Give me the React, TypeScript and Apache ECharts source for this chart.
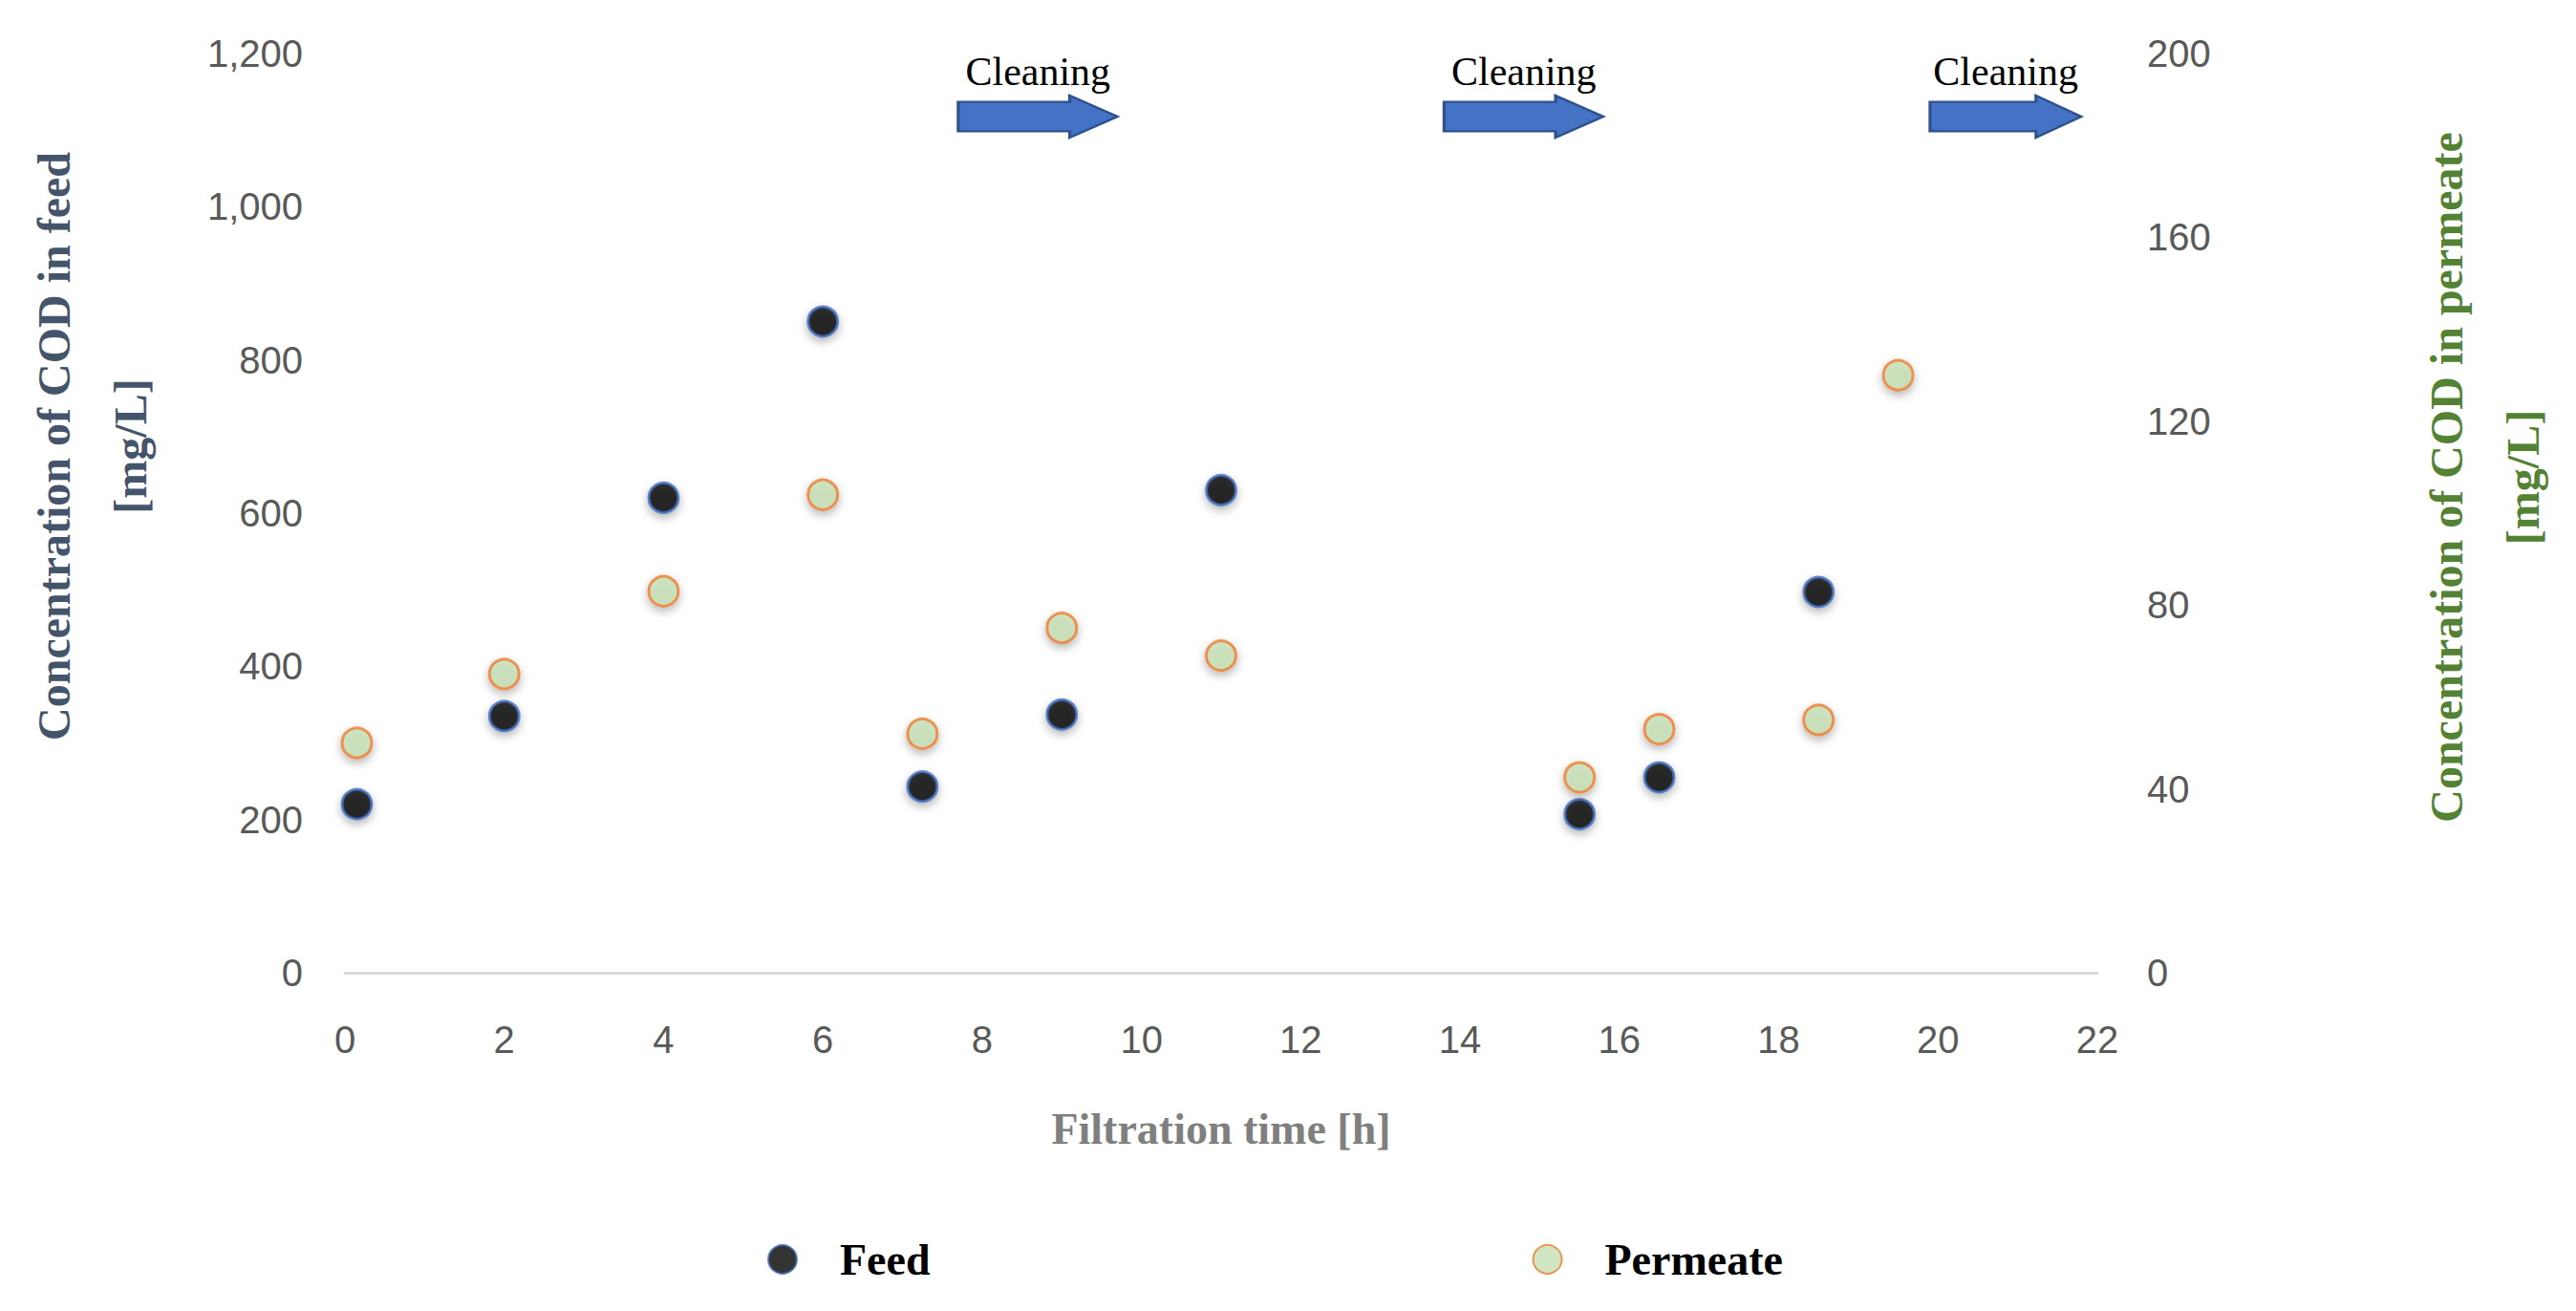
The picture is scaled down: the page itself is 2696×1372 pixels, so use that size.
import React, { useRef, useEffect } from 'react';
import * as echarts from 'echarts';

const feedTime = [0.15, 2, 4, 6, 7.25, 9, 11, 15.5, 16.5, 18.5];
const feedCod = [220, 335, 620, 850, 243, 337, 630, 207, 255, 497];
const permTime = [0.15, 2, 4, 6, 7.25, 9, 11, 15.5, 16.5, 18.5, 19.5];
const permCod = [50, 65, 83, 104, 52, 75, 69, 42.5, 53, 55, 130];
// cleaning arrows: [start, end] in hours
const cleanings = [
  [7.7, 9.7],
  [13.8, 15.8],
  [19.9, 21.8],
];

const ARROW = 'M0,6 L70,6 L70,0 L100,20 L70,40 L70,34 L0,34 Z';
echarts.graphic.registerShape('cleanArrow', echarts.graphic.extendPath(ARROW, {}) as any);

const tickFont = '"Liberation Sans Narrow", "Liberation Sans", sans-serif';
const titleFont = '"Liberation Serif", "DejaVu Serif", serif';

const App: React.FC = () => {
  const chartRef = useRef<HTMLDivElement>(null);

  useEffect(() => {
    if (!chartRef.current) return;
    const chart = echarts.init(chartRef.current, undefined, { renderer: 'svg' });

    const axisLabel = { color: '#595959', fontSize: 40, fontFamily: tickFont };
    chart.setOption({
      animation: false,
      backgroundColor: '#fff',
      grid: { left: 311, right: 418, top: 48, bottom: 346 },
      xAxis: {
        type: 'value', min: 0, max: 22, interval: 2,
        name: 'Filtration time [h]', nameLocation: 'middle', nameGap: 140,
        nameTextStyle: { color: '#7f7f7f', fontSize: 46, fontWeight: 'bold', fontFamily: titleFont },
        axisLine: { show: true, lineStyle: { color: '#d9d9d9', width: 3 } },
        axisTick: { show: false },
        splitLine: { show: false },
        axisLabel: { ...axisLabel, margin: 50 },
      },
      yAxis: [
        {
          type: 'value', min: 0, max: 1200, interval: 200,
          name: 'Concentration of COD in feed\n[mg/L]', nameLocation: 'middle', nameGap: 185, nameRotate: 90,
          nameTextStyle: { color: '#44546A', fontSize: 48, fontWeight: 'bold', fontFamily: titleFont, lineHeight: 80, padding: [0, 0, 0, 140] },
          axisLine: { show: false }, axisTick: { show: false }, splitLine: { show: false },
          axisLabel: { ...axisLabel, margin: 44 },
        },
        {
          type: 'value', min: 0, max: 200, interval: 40,
          name: 'Concentration of COD in permeate\n[mg/L]', nameLocation: 'middle', nameGap: 325, nameRotate: 90,
          nameTextStyle: { color: '#548235', fontSize: 48, fontWeight: 'bold', fontFamily: titleFont, lineHeight: 80, padding: [0, 0, 0, 75] },
          axisLine: { show: false }, axisTick: { show: false }, splitLine: { show: false },
          axisLabel: { ...axisLabel, margin: 52 },
        },
      ],
      legend: {
        bottom: 18, left: 790, itemGap: 630, icon: 'circle', itemWidth: 30, itemHeight: 30,
        textStyle: { fontSize: 46, fontWeight: 'bold', fontFamily: titleFont, color: '#000', padding: [0, 0, 0, 40] },
      },
      series: [
        {
          name: 'Feed', type: 'scatter', yAxisIndex: 0, symbolSize: 31,
          data: feedTime.map((t, i) => [t, feedCod[i]]),
          itemStyle: { color: '#000', borderColor: '#4472C4', borderWidth: 3, shadowBlur: 10, shadowColor: 'rgba(0,0,0,0.35)', shadowOffsetY: 4 },
        },
        {
          name: 'Permeate', type: 'scatter', yAxisIndex: 1, symbolSize: 31,
          data: permTime.map((t, i) => [t, permCod[i]]),
          itemStyle: { color: '#C5E0B4', borderColor: '#ED7D31', borderWidth: 3, shadowBlur: 10, shadowColor: 'rgba(0,0,0,0.35)', shadowOffsetY: 4 },
        },
      ],
    });

    const graphic: any[] = [];
    cleanings.forEach(([a, b]) => {
      const x0 = chart.convertToPixel({ xAxisIndex: 0 }, a) as number;
      const x1 = chart.convertToPixel({ xAxisIndex: 0 }, b) as number;
      graphic.push({
        type: 'cleanArrow', x: x0, y: 92, scaleX: (x1 - x0) / 100, scaleY: 1.1,
        style: { fill: '#4472C4', stroke: '#2F528F', lineWidth: 2 },
      });
      graphic.push({
        type: 'text', x: (x0 + x1) / 2, y: 88,
        style: { text: 'Cleaning', fontSize: 42, fontFamily: titleFont, fill: '#000', textAlign: 'center', textVerticalAlign: 'bottom' },
      });
    });
    chart.setOption({ graphic });

    return () => chart.dispose();
  }, []);

  return <div ref={chartRef} style={{ width: 2680, height: 1356 }} />;
};

export default App;
